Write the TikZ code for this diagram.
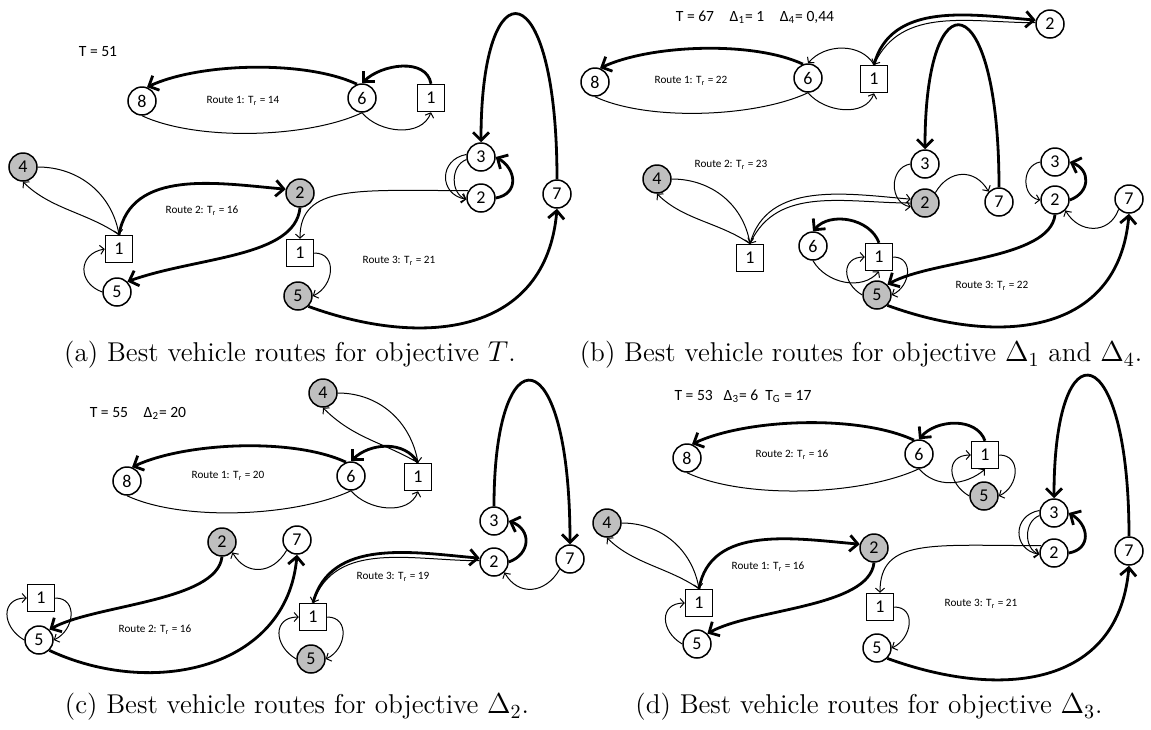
\documentclass[tikz,border=0pt]{standalone}
\usepackage{fontspec}
\newfontfamily\carlito{Carlito}
\usetikzlibrary{arrows.meta}

\begin{document}
\begin{tikzpicture}[x=0.5pt,y=0.5pt,
  every node/.style={font=\carlito\fontsize{9}{10}\selectfont},
  cust/.style={circle,draw,line width=0.75pt,minimum size=14pt,inner sep=0pt},
  served/.style={cust,fill=black!25},
  depot/.style={rectangle,draw,line width=0.75pt,minimum size=13.5pt,inner sep=0pt},
  tour/.style={line width=1.4pt,-{Straight Barb[length=4pt,width=8pt]}},
  back/.style={line width=0.5pt,-{Straight Barb[length=2pt,width=4.5pt]}},
  noarr/.style={line width=0.5pt},
  hdr/.style={font=\carlito\fontsize{7.8}{9}\selectfont},
  lbl/.style={font=\carlito\fontsize{5.6}{7}\selectfont},
  subcap/.style={font=\fontsize{13.6}{16}\selectfont}]
  \useasboundingbox (0,0) rectangle (1151,-729);

  \node[hdr] (aT) at (98,-52) {T = 51};
  \node[cust] (a8) at (142,-101) {8};
  \node[cust] (a6) at (362,-98) {6};
  \node[depot] (a1) at (431,-98) {1};
  \node[served] (a4) at (23,-167) {4};
  \node[served] (a2) at (300,-193) {2};
  \node[depot] (a1b) at (119,-249) {1};
  \node[cust] (a5) at (117,-292) {5};
  \node[cust] (a3c) at (481,-157) {3};
  \node[cust] (a2c) at (481,-198) {2};
  \node[cust] (a7c) at (557,-194) {7};
  \node[depot] (a1c) at (300,-253) {1};
  \node[served] (a5c) at (298,-296) {5};
  \node[lbl] (ar1) at (243,-101) {Route 1: T\textsubscript{r} = 14};
  \node[lbl] (ar2) at (202,-211) {Route 2: T\textsubscript{r} = 16};
  \node[lbl] (ar3) at (399,-261) {Route 3: T\textsubscript{r} = 21};

  \draw[tour] (a1.north) to[out=100,in=45] (a6.north);
  \draw[tour] (a6.110) to[out=155,in=25,looseness=0.7] (a8.70);
  \draw[noarr] (a8.south) to[out=-25,in=-155,looseness=0.7] (a6.south);
  \draw[back] (a6.south) to[out=-50,in=-110] (a1.south);
  \draw[back] (a4.east) to[out=0,in=100] (a1b.north);
  \draw[back] (a1b.north) to[out=145,in=-45,looseness=0.9] (a4.south);
  \draw[tour] (a1b.north) to[out=80,in=175] (a2.165);
  \draw[tour] (a2.south) .. controls +(-5,-50) and +(70,25) .. (a5.north east);
  \draw[back] (a5.west) to[out=160,in=190,looseness=1.6] (a1b.west);
  \draw[back] (a1c.east) to[out=0,in=25,looseness=1.4] (a5c.east);
  \draw[tour] (a5c.south east) to[out=-20,in=-95,looseness=1.2] (a7c.south);
  \draw[tour] (a7c.north) .. controls +(0,210) and +(0,180) .. (a3c.north);
  \draw[back] (a3c.170) to[out=190,in=170,looseness=1.6] (a2c.185);
  \draw[back] (a3c.190) to[out=200,in=160,looseness=1.1] (a2c.185);
  \draw[tour] (a2c.east) to[out=10,in=-30,looseness=1.5] (a3c.east);
  \draw[back] (a2c.150) .. controls +(-110,0) and +(0,55) .. (a1c.north);

  \node[hdr] (bT) at (755,-17) {T = 67\quad Δ\textsubscript{1}= 1\quad Δ\textsubscript{4}= 0,44};
  \node[cust] (b8) at (595,-82) {8};
  \node[cust] (b6) at (808,-78) {6};
  \node[depot] (b1) at (874,-79) {1};
  \node[cust] (b2) at (1050,-24) {2};
  \node[served] (b4) at (657,-179) {4};
  \node[depot] (b1b) at (750,-258) {1};
  \node[cust] (b3) at (925,-164) {3};
  \node[served] (b2b) at (925,-203) {2};
  \node[cust] (b7) at (999,-202) {7};
  \node[cust] (b6c) at (813,-246) {6};
  \node[depot] (b1c) at (879,-257) {1};
  \node[served] (b5c) at (877,-295) {5};
  \node[cust] (b3c) at (1055,-162) {3};
  \node[cust] (b2c) at (1055,-200) {2};
  \node[cust] (b7c) at (1129,-199) {7};
  \node[lbl] (br1) at (691,-81) {Route 1: T\textsubscript{r} = 22};
  \node[lbl] (br2) at (731,-165) {Route 2: T\textsubscript{r} = 23};
  \node[lbl] (br3) at (992,-286) {Route 3: T\textsubscript{r} = 22};

  \draw[tour] (b1.north) to[out=75,in=175] (b2.165);
  \draw[back] (b2.175) to[out=180,in=65] (b1.north);
  \draw[tour] (b6.110) to[out=155,in=25,looseness=0.7] (b8.70);
  \draw[noarr] (b8.south) to[out=-25,in=-155,looseness=0.7] (b6.south);
  \draw[back] (b1.north) to[out=120,in=50] (b6.north);
  \draw[back] (b6.south) to[out=-50,in=-110] (b1.south);
  \draw[back] (b4.east) to[out=0,in=100] (b1b.north);
  \draw[back] (b1b.north) to[out=145,in=-45,looseness=0.9] (b4.south);
  \draw[back] (b1b.north) to[out=75,in=175] (b2b.165);
  \draw[back] (b2b.180) to[out=180,in=65] (b1b.north);
  \draw[back] (b3.west) to[out=190,in=170,looseness=1.3] (b2b.195);
  \draw[back] (b2b.north east) to[out=60,in=120,looseness=1.3] (b7.north west);
  \draw[tour] (b7.north) .. controls +(0,205) and +(0,175) .. (b3.north);
  \draw[tour] (b1c.north) to[out=110,in=50] (b6c.north);
  \draw[back] (b6c.south) to[out=-60,in=-130] (b1c.south);
  \draw[back] (b5c.west) to[out=150,in=180,looseness=1.6] (b1c.west);
  \draw[back] (b1c.east) to[out=0,in=25,looseness=1.4] (b5c.east);
  \draw[tour] (b2c.south) .. controls +(-5,-45) and +(45,25) .. (b5c.north east);
  \draw[tour] (b5c.south east) to[out=-20,in=-95,looseness=1.2] (b7c.south);
  \draw[back] (b7c.south west) to[out=-110,in=-60,looseness=1.3] (b2c.south east);
  \draw[back] (b3c.west) to[out=190,in=170,looseness=1.3] (b2c.west);
  \draw[tour] (b2c.east) to[out=20,in=-20,looseness=1.5] (b3c.east);

  \node[hdr] (cT) at (138,-413) {T = 55\quad Δ\textsubscript{2}= 20};
  \node[served] (c4) at (323,-393) {4};
  \node[cust] (c8) at (127,-481) {8};
  \node[cust] (c6) at (351,-476) {6};
  \node[depot] (c1) at (418,-477) {1};
  \node[served] (c2) at (222,-542) {2};
  \node[cust] (c7) at (297,-540) {7};
  \node[depot] (c1b) at (41,-598) {1};
  \node[cust] (c5) at (39,-640) {5};
  \node[cust] (c3c) at (494,-521) {3};
  \node[cust] (c2c) at (494,-562) {2};
  \node[cust] (c7c) at (570,-559) {7};
  \node[depot] (c1c) at (313,-617) {1};
  \node[served] (c5c) at (311,-659) {5};
  \node[lbl] (cr1) at (228,-476) {Route 1: T\textsubscript{r} = 20};
  \node[lbl] (cr2) at (155,-630) {Route 2: T\textsubscript{r} = 16};
  \node[lbl] (cr3) at (393,-577) {Route 3: T\textsubscript{r} = 19};

  \draw[tour] (c1.north) to[out=120,in=45] (c6.north);
  \draw[tour] (c6.110) to[out=155,in=25,looseness=0.7] (c8.70);
  \draw[noarr] (c8.south) to[out=-25,in=-155,looseness=0.7] (c6.south);
  \draw[back] (c6.south) to[out=-50,in=-110] (c1.south);
  \draw[back] (c4.east) to[out=0,in=100] (c1.north);
  \draw[back] (c1.north) to[out=150,in=-45] (c4.south);
  \draw[tour] (c2.south) .. controls +(-5,-45) and +(45,25) .. (c5.north east);
  \draw[tour] (c5.south east) to[out=-25,in=-95,looseness=1.1] (c7.south);
  \draw[back] (c7.south west) to[out=-120,in=-60,looseness=1.3] (c2.south east);
  \draw[back] (c1b.east) to[out=0,in=25,looseness=1.4] (c5.east);
  \draw[back] (c5.west) to[out=150,in=180,looseness=1.6] (c1b.west);
  \draw[tour] (c1c.north) to[out=75,in=175] (c2c.165);
  \draw[back] (c2c.175) to[out=180,in=70] (c1c.north);
  \draw[back] (c1c.east) to[out=0,in=25,looseness=1.4] (c5c.east);
  \draw[back] (c5c.west) to[out=150,in=180,looseness=1.6] (c1c.west);
  \draw[tour] (c2c.east) to[out=20,in=-20,looseness=1.5] (c3c.east);
  \draw[tour] (c3c.north) .. controls +(0,175) and +(0,210) .. (c7c.north);
  \draw[back] (c7c.south west) to[out=-120,in=-60,looseness=1.3] (c2c.south east);

  \node[hdr] (dT) at (743,-396) {T = 53\hspace{0.7em}Δ\textsubscript{3}= 6\hspace{0.45em}T\textsubscript{G} = 17};
  \node[cust] (d8) at (687,-458) {8};
  \node[cust] (d6) at (919,-454) {6};
  \node[depot] (d1) at (985,-455) {1};
  \node[served] (d5) at (984,-496) {5};
  \node[served] (d4) at (607,-523) {4};
  \node[served] (d2) at (874,-548) {2};
  \node[depot] (d1b) at (699,-603) {1};
  \node[cust] (d5b) at (697,-644) {5};
  \node[cust] (d3c) at (1054,-513) {3};
  \node[cust] (d2c) at (1054,-553) {2};
  \node[cust] (d7c) at (1129,-551) {7};
  \node[depot] (d1c) at (880,-607) {1};
  \node[cust] (d5c) at (877,-648) {5};
  \node[lbl] (dr2) at (792,-455) {Route 2: T\textsubscript{r} = 16};
  \node[lbl] (dr1) at (768,-567) {Route 1: T\textsubscript{r} = 16};
  \node[lbl] (dr3) at (981,-604) {Route 3: T\textsubscript{r} = 21};

  \draw[tour] (d1.north) to[out=110,in=50] (d6.north);
  \draw[tour] (d6.110) to[out=155,in=25,looseness=0.7] (d8.70);
  \draw[noarr] (d8.south) to[out=-25,in=-155,looseness=0.7] (d6.south);
  \draw[back] (d6.south) to[out=-50,in=-140] (d1.south);
  \draw[back] (d5.west) to[out=150,in=180,looseness=1.6] (d1.west);
  \draw[back] (d1.east) to[out=0,in=25,looseness=1.4] (d5.east);
  \draw[back] (d4.east) to[out=0,in=100] (d1b.north);
  \draw[back] (d1b.north) to[out=145,in=-45,looseness=0.9] (d4.south);
  \draw[tour] (d1b.north) to[out=80,in=175] (d2.165);
  \draw[tour] (d2.south) .. controls +(-5,-45) and +(45,25) .. (d5b.north east);
  \draw[back] (d5b.west) to[out=150,in=180,looseness=1.6] (d1b.west);
  \draw[back] (d1c.east) to[out=0,in=25,looseness=1.4] (d5c.east);
  \draw[tour] (d5c.south east) to[out=-20,in=-95,looseness=1.2] (d7c.south);
  \draw[tour] (d7c.north) .. controls +(0,200) and +(0,176) .. (d3c.north);
  \draw[back] (d3c.170) to[out=190,in=170,looseness=1.6] (d2c.185);
  \draw[back] (d3c.190) to[out=200,in=160,looseness=1.1] (d2c.185);
  \draw[tour] (d2c.east) to[out=10,in=-30,looseness=1.5] (d3c.east);
  \draw[back] (d2c.150) .. controls +(-110,0) and +(0,55) .. (d1c.north);

  \node[subcap] (capa) at (290,-355) {(a) Best vehicle routes for objective $T$.};
  \node[subcap] (capb) at (861,-355) {(b) Best vehicle routes for objective $\Delta_1$ and $\Delta_4$.};
  \node[subcap] (capc) at (297,-707) {(c) Best vehicle routes for objective $\Delta_2$.};
  \node[subcap] (capd) at (869,-707) {(d) Best vehicle routes for objective $\Delta_3$.};
\end{tikzpicture}
\end{document}
